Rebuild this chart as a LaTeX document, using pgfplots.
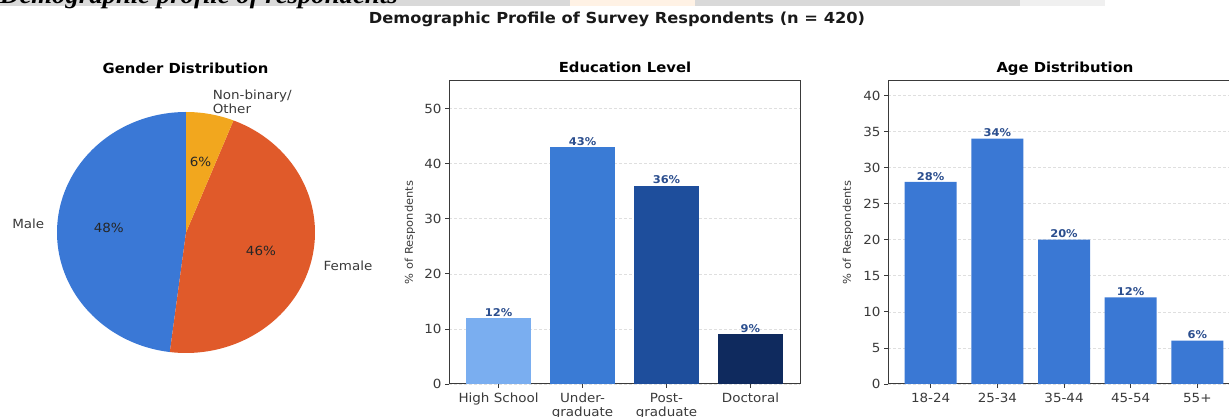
\documentclass[border=0pt]{standalone}
\usepackage{fontspec}
\setmainfont{DejaVu Sans}[FakeStretch=1.07]
\newfontfamily\serifbi{Liberation Serif}[FakeStretch=1.07]
\usepackage{pgfplots}
\pgfplotsset{compat=1.18}

\definecolor{male}{HTML}{3A78D6}
\definecolor{female}{HTML}{E05A2A}
\definecolor{other}{HTML}{F2A71E}
\definecolor{eduA}{HTML}{7AAEF0}
\definecolor{eduB}{HTML}{3A7BD5}
\definecolor{eduC}{HTML}{1E4E9C}
\definecolor{eduD}{HTML}{0F2A5E}
\definecolor{ageC}{HTML}{3A78D4}
\definecolor{lbl}{HTML}{2B4E8E}
\definecolor{axc}{HTML}{3A3A3A}
\definecolor{band}{HTML}{D9D9D9}

\pgfplotsset{
  barstyle/.style={
    scale only axis,
    height=303pt,
    ymin=0,
    axis line style={axc, line width=1pt},
    tick pos=left,
    tick align=outside,
    major tick length=4pt,
    every tick/.style={axc, line width=0.8pt},
    ymajorgrids,
    major grid style={densely dashed, gray!25, line width=0.6pt},
    tick label style={font=\fontsize{12.6}{14}\selectfont, text=axc},
    xticklabel style={align=center, inner sep=2pt, yshift=-3pt},
    /pgf/number format/assume math mode=true,
    ylabel={\% of Respondents},
    ylabel style={font=\fontsize{10.7}{13}\selectfont, text=axc, anchor=center},
    nodes near coords={\pgfmathprintnumber{\pgfplotspointmeta}\%},
    every node near coord/.style={font=\bfseries\fontsize{10.7}{12}\selectfont, text=lbl, inner sep=1.5pt, anchor=south},
  },
}

\begin{document}
\begin{tikzpicture}[x=1pt, y=1pt]
\useasboundingbox (0,0) rectangle (1229,417);
\clip (0,0) rectangle (1229,417);

% strip along the top edge
\fill[band] (0,410.5) rectangle (1229,417);
\fill[white!90!orange] (570,410.5) rectangle (695,417);
\fill[white!60!band] (1020,410.5) rectangle (1105,417);
\fill[white] (1105,410.5) rectangle (1229,417);
\node[anchor=base west, inner sep=0pt, font=\serifbi\bfseries\itshape\fontsize{25}{28}\selectfont] at (0,413.2) {Demographic profile of respondents};

% main title
\node[anchor=base, inner sep=0pt, font=\bfseries\fontsize{15.2}{17}\selectfont, text=black!90] at (617,393) {Demographic Profile of Survey Respondents (n = 420)};

% ---------------- Gender pie ----------------
\begin{axis}[
  at={(57pt,64pt)}, anchor=south west,
  scale only axis, width=258pt, height=241pt,
  xmin=-1, xmax=1, ymin=-1, ymax=1,
  hide axis, clip=false,
]
% shares: Male 48, Female 46, Non-binary/Other 6 (start at 90 deg, counter-clockwise)
\addplot[fill=male, draw=none, domain=90:262.8, samples=120, variable=\t]
  ({cos(\t)},{sin(\t)}) -- (axis cs:0,0) -- cycle;
\addplot[fill=female, draw=none, domain=262.8:428.4, samples=120, variable=\t]
  ({cos(\t)},{sin(\t)}) -- (axis cs:0,0) -- cycle;
\addplot[fill=other, draw=none, domain=428.4:450, samples=30, variable=\t]
  ({cos(\t)},{sin(\t)}) -- (axis cs:0,0) -- cycle;

\node[font=\fontsize{12.6}{14}\selectfont, text=black!85] at (axis cs:{0.6*cos(176.4)},{0.6*sin(176.4)}) {48\%};
\node[font=\fontsize{12.6}{14}\selectfont, text=black!85] at (axis cs:{0.6*cos(345.6)},{0.6*sin(345.6)}) {46\%};
\node[font=\fontsize{12.6}{14}\selectfont, text=black!85] at (axis cs:{0.6*cos(79.2)},{0.6*sin(79.2)}) {6\%};

\node[anchor=east, inner sep=0pt, font=\fontsize{12.6}{14}\selectfont, text=axc] at (axis cs:{1.1*cos(176.4)},{1.1*sin(176.4)}) {Male};
\node[anchor=west, inner sep=0pt, font=\fontsize{12.6}{14}\selectfont, text=axc] at (axis cs:{1.1*cos(345.6)},{1.1*sin(345.6)}) {Female};
\node[anchor=west, inner sep=0pt, align=left, font=\fontsize{12.6}{14}\selectfont, text=axc] at (axis cs:{1.1*cos(79.2)},{1.1*sin(79.2)}) {Non-binary/\\Other};
\end{axis}
\node[anchor=base, inner sep=0pt, font=\bfseries\fontsize{13.85}{16}\selectfont] at (185.5,343) {Gender Distribution};

% ---------------- Education bars ----------------
\begin{axis}[
  barstyle,
  at={(449pt,33pt)}, anchor=south west,
  width=351pt,
  xmin=-0.59, xmax=3.59, ymax=55,
  ytick={0,10,20,30,40,50},
  xtick={0,1,2,3},
  xticklabels={High School, Under-\\graduate, Post-\\graduate, Doctoral},
  ylabel style={at={(axis description cs:-0.111,0.5)}},
]
\addplot[ybar, bar width=0.78, bar shift=0pt, fill=eduA, draw=none] coordinates {(0,12)};
\addplot[ybar, bar width=0.78, bar shift=0pt, fill=eduB, draw=none] coordinates {(1,43)};
\addplot[ybar, bar width=0.78, bar shift=0pt, fill=eduC, draw=none] coordinates {(2,36)};
\addplot[ybar, bar width=0.78, bar shift=0pt, fill=eduD, draw=none] coordinates {(3,9)};
\end{axis}
\node[anchor=base, inner sep=0pt, font=\bfseries\fontsize{13.85}{16}\selectfont] at (625,344) {Education Level};

% ---------------- Age bars ----------------
\begin{axis}[
  barstyle,
  at={(888pt,33pt)}, anchor=south west,
  width=352pt,
  xmin=-0.64, xmax=4.64, ymax=42,
  ytick={0,5,...,40},
  xtick={0,1,2,3,4},
  xticklabels={18-24, 25-34, 35-44, 45-54, 55+},
  ylabel style={at={(axis description cs:-0.114,0.5)}},
]
\addplot[ybar, bar width=0.78, bar shift=0pt, fill=ageC, draw=none]
  coordinates {(0,28) (1,34) (2,20) (3,12) (4,6)};
\end{axis}
\node[anchor=base, inner sep=0pt, font=\bfseries\fontsize{13.85}{16}\selectfont] at (1065,344) {Age Distribution};
\end{tikzpicture}
\end{document}
